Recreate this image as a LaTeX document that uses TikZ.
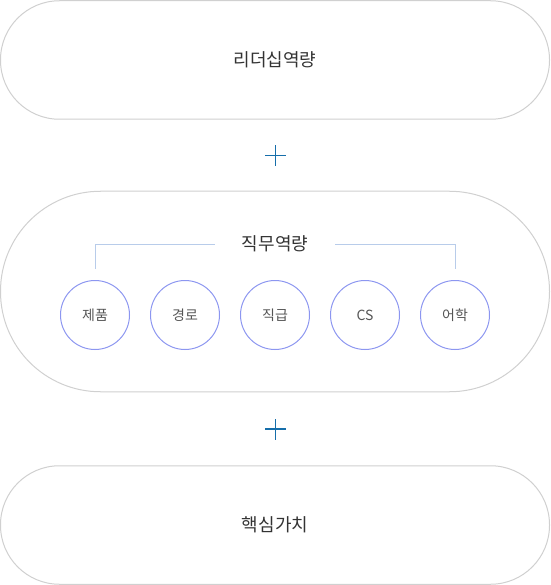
\documentclass[tikz,border=0pt]{standalone}
\usepackage{fontspec}
\newfontfamily\kr{Noto Sans CJK KR}
\definecolor{pillline}{RGB}{208,208,208}
\definecolor{txt}{RGB}{51,51,51}
\definecolor{ctxt}{RGB}{85,85,85}
\definecolor{plusc}{RGB}{22,110,170}
\definecolor{brk}{RGB}{184,204,234}
\definecolor{circ}{RGB}{140,150,240}
\tikzset{
  pill/.style={draw=pillline, line width=1pt, rounded corners=#1, inner sep=0pt},
  bigtext/.style={font=\kr\fontsize{18}{20}\selectfont, text=txt, inner sep=0pt},
  skill/.style={circle, draw=circ, line width=1pt, minimum size=69pt, inner sep=0pt, font=\kr\fontsize{14}{16}\selectfont, text=ctxt},
  plusline/.style={draw=plusc, line width=1.2pt},
  bracket/.style={draw=brk, line width=1pt},
}
\begin{document}
\begin{tikzpicture}[x=1pt,y=-1pt]
\useasboundingbox (0,0) rectangle (550,585);
% pills
\node[pill=59pt, minimum width=549pt, minimum height=118.5pt, bigtext] (lead) at (275,60) {리더십역량};
\node[pill=100pt, minimum width=549pt, minimum height=200.5pt] (job) at (275,291.5) {};
\node[pill=59pt, minimum width=549pt, minimum height=118.5pt, bigtext] (core) at (275,525) {핵심가치};
% plus signs
\coordinate (p1) at (275.5,155.5);
\draw[plusline] ([xshift=-10.5pt]p1) -- ([xshift=10.5pt]p1);
\draw[plusline] ([yshift=-10.5pt]p1) -- ([yshift=10.5pt]p1);
\coordinate (p2) at (275.5,429);
\draw[plusline] ([xshift=-10.5pt]p2) -- ([xshift=10.5pt]p2);
\draw[plusline] ([yshift=-10.5pt]p2) -- ([yshift=10.5pt]p2);
% title
\node[bigtext] (title) at (275,244) {직무역량};
% circles
\node[skill] (c1) at (95,315) {제품};
\node[skill] (c2) at (185,315) {경로};
\node[skill] (c3) at (275,315) {직급};
\node[skill] (c4) at (365,315) {CS};
\node[skill] (c5) at (455,315) {어학};
% bracket
\coordinate (bl) at (95,269);
\coordinate (br) at (455,269);
\coordinate (tl) at (215,244);
\coordinate (tr) at (335,244);
\draw[bracket] (bl) |- (tl);
\draw[bracket] (tr) -| (br);
\end{tikzpicture}
\end{document}
